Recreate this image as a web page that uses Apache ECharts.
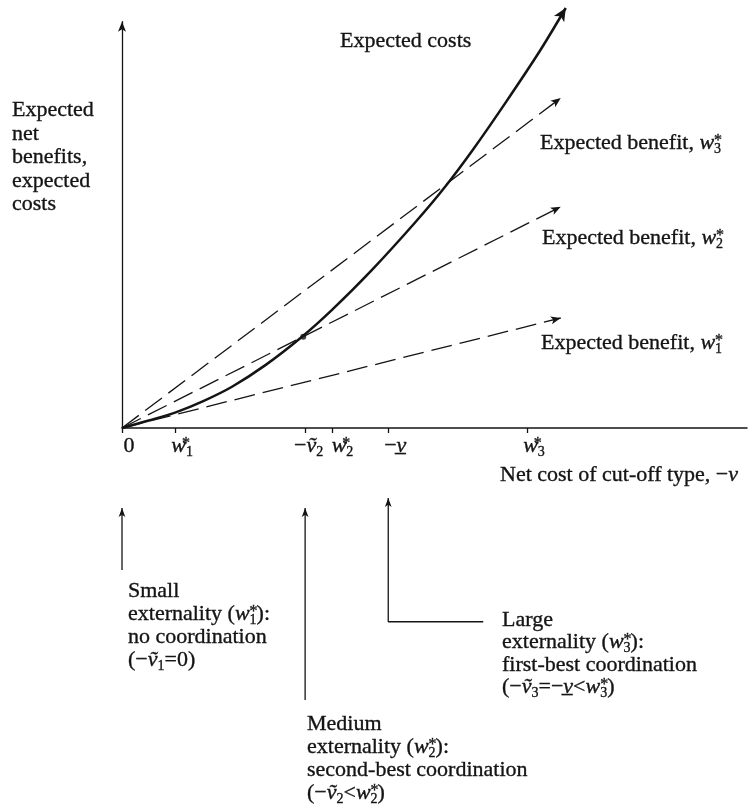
<!DOCTYPE html>
<html><head><meta charset="utf-8">
<script src="https://cdn.jsdelivr.net/npm/echarts@6/dist/echarts.min.js"></script>
<style>html,body{margin:0;padding:0;background:#fff}#c{width:748px;height:811px}</style>
</head><body><div id="c"></div>
<script>
// ---- data ----
const costX = [0, 4.3, 8.6, 13.0, 17.6, 23.0, 28.8, 33.6, 40.0, 47.0, 51.7, 56.2, 61.4, 66.9, 71.0];
const costY = [0, 1.2, 2.5, 4.3, 6.6, 10.1, 14.6, 18.9, 25.3, 33.0, 38.6, 44.6, 52.1, 60.4, 67.2];
const benefitNames = ['Expected benefit, w1*', 'Expected benefit, w2*', 'Expected benefit, w3*'];
const benefitEndX = [70.2, 70.2, 70.2];
const benefitEndY = [17.6, 35.4, 52.8];
const tangentPoint = [29.0, 14.6];
const xTickValues = [0, 8.5, 29.3, 33.6, 42.6, 64.8];
const xTickLabels = ['0', '{i|w}{a|*}{s|1}', '−{i|ṽ}{s|2}{g| }', '{g| }{i|w}{a|*}{s|2}', '−{i|v̲}', '{i|w}{a|*}{s|3}'];
const pointerPaths = [
  [[0, -22.7], [0, -12.8]],
  [[29.3, -43.5], [29.3, -12.8]],
  [[57.8, -31.0], [42.6, -31.0], [42.6, -11.2]]
];
const yTitle = 'Expected\nnet\nbenefits,\nexpected\ncosts';
const costTitle = 'Expected costs';
const benefitLabels = ['Expected benefit, {i|w}{a|*}{s|1}', 'Expected benefit, {i|w}{a|*}{s|2}', 'Expected benefit, {i|w}{a|*}{s|3}'];
const xTitle = 'Net cost of cut-off type, −{i|v}';
const notes = [
  'Small\nexternality ({i|w}{a|*}{s|1}):\nno coordination\n(−{i|ṽ}{s|1}=0)',
  'Medium\nexternality ({i|w}{a|*}{s|2}):\nsecond-best coordination\n(−{i|ṽ}{s|2}<{i|w}{a|*}{s|2})',
  'Large\nexternality ({i|w}{a|*}{s|3}):\nfirst-best coordination\n(−{i|ṽ}{s|3}=−{i|v̲}<{i|w}{a|*}{s|3})'
];

// ---- styling ----
const FONT = '"Liberation Serif", "Times New Roman", serif';
const INK = '#141414';
function richSet(key) {
  const c = {}; c[key] = INK;
  return {
    i: Object.assign({}, c, {fontFamily: FONT, fontSize: 22, fontStyle: 'italic'}),
    s: Object.assign({}, c, {fontFamily: FONT, fontSize: 14, padding: [12, 0, 0, 0]}),
    a: Object.assign({}, c, {fontFamily: FONT, fontSize: 16, padding: [0, 0, 5, 0], width: 0}),
    g: Object.assign({}, c, {fontFamily: FONT, fontSize: 22, width: 7})
  };
}
function arrowRot(p0, p1) {
  return Math.atan2(p1[1] - p0[1], p1[0] - p0[0]) * 180 / Math.PI - 90;
}
function withArrow(pts, size) {
  const n = pts.length;
  return pts.map((p, k) => k < n - 1 ? p : {
    value: p, symbol: 'arrow', symbolSize: size, symbolRotate: arrowRot(pts[n - 2], p)
  });
}

const costPts = costX.map((x, k) => [x, costY[k]]);
const series = [];
series.push({
  type: 'line', name: 'Expected costs', data: withArrow(costPts, [9, 13]),
  smooth: 0.3, symbol: 'none', showSymbol: true, clip: false, z: 5, silent: true,
  lineStyle: {color: INK, width: 2.5}, itemStyle: {color: INK}
});
benefitNames.forEach((nm, k) => {
  series.push({
    type: 'line', name: nm, data: withArrow([[0, 0], [benefitEndX[k], benefitEndY[k]]], [6, 10]),
    symbol: 'none', showSymbol: true, clip: false, z: 4, silent: true,
    lineStyle: {color: INK, width: 1.3, type: [21, 8]}, itemStyle: {color: INK}
  });
});
series.push({
  type: 'scatter', data: [tangentPoint], symbolSize: 6, itemStyle: {color: INK}, z: 6, silent: true
});
pointerPaths.forEach(path => {
  series.push({
    type: 'line', data: withArrow(path, [5, 9]), symbol: 'none', showSymbol: true,
    clip: false, silent: true, lineStyle: {color: INK, width: 1.3}, itemStyle: {color: INK}
  });
});

function txt(text, x, y, lh) {
  return {
    type: 'text', x: x, y: y, silent: true,
    style: {
      text: text, fill: INK, fontFamily: FONT, fontSize: 22, lineHeight: lh || 23,
      stroke: INK, lineWidth: 0.35,
      verticalAlign: 'top', align: 'left', rich: richSet('fill')
    }
  };
}
const graphics = [
  txt(yTitle, 12, 98.5, 23.5),
  txt(costTitle, 340, 29.5),
  txt(benefitLabels[2], 540, 131.5),
  txt(benefitLabels[1], 542, 226.5),
  txt(benefitLabels[0], 541, 331.5),
  txt(xTitle, 500, 463.5),
  txt(notes[0], 128, 579.5),
  txt(notes[1], 307, 712.5),
  txt(notes[2], 502, 608.5, 22.5)
];

const chart = echarts.init(document.getElementById('c'));
chart.setOption({
  backgroundColor: '#fff',
  animation: false,
  grid: {left: 122, top: 21.75, width: 625, height: 406.25, outerBoundsMode: 'none', containLabel: false},
  xAxis: {
    type: 'value', min: 0, max: 100,
    splitLine: {show: false},
    axisLine: {show: true, onZero: true, lineStyle: {color: INK, width: 1.5}},
    axisTick: {show: true, customValues: xTickValues, length: 5, lineStyle: {color: INK, width: 1.3}},
    axisLabel: {
      show: true, customValues: xTickValues, margin: 6, padding: [0, 0, 0, 14],
      color: INK, fontFamily: FONT, fontSize: 22, lineHeight: 24,
      textBorderColor: INK, textBorderWidth: 0.35,
      formatter: v => { const k = xTickValues.indexOf(v); return k >= 0 ? xTickLabels[k] : ''; },
      rich: richSet('color')
    }
  },
  yAxis: {
    type: 'value', min: 0, max: 65,
    splitLine: {show: false},
    axisLine: {show: true, onZero: true, symbol: ['none', 'arrow'], symbolSize: [6, 10], lineStyle: {color: INK, width: 1.3}},
    axisTick: {show: false},
    axisLabel: {show: false}
  },
  series: series,
  graphic: graphics
});
</script>
</body></html>
